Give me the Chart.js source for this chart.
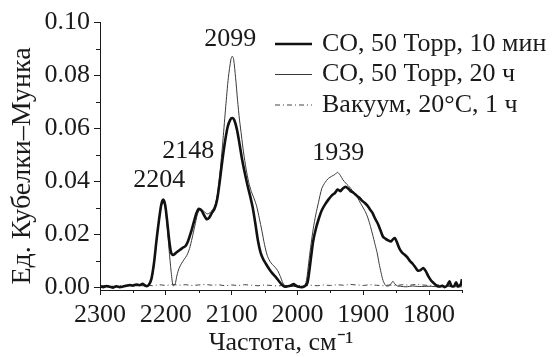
<!DOCTYPE html>
<html><head><meta charset="utf-8">
<script src="https://cdn.jsdelivr.net/npm/chart.js@4/dist/chart.umd.min.js"></script>
<style>html,body{margin:0;padding:0;background:#fff}</style>
</head><body>
<canvas id="c" width="555" height="357"></canvas>
<script>
// ---- data ----
const seriesLabels = ["CO, 50 Торр, 10 мин", "CO, 50 Торр, 20 ч", "Вакуум, 20°C, 1 ч"];

const wn10min = [2300,2295,2290,2285,2280,2275,2270,2265,2260,2255,2250,2245,2240,2235,2230,2226,2222,2218,2214,2210,2207,2204,2201,2198,2195,2192,2189,2185,2180,2175,2170,2166,2162,2158,2154,2150,2146,2142,2138,2134,2130,2126,2122,2118,2114,2110,2106,2102,2099,2096,2092,2088,2084,2080,2076,2072,2068,2064,2060,2056,2052,2048,2044,2040,2036,2032,2028,2024,2020,2015,2010,2006,2002,1998,1993,1989,1985,1982,1979,1976,1972,1968,1963,1958,1953,1948,1943,1939,1935,1931,1927,1923,1919,1915,1910,1906,1902,1898,1894,1890,1886,1882,1878,1874,1870,1866,1862,1858,1855,1852,1849,1845,1841,1837,1833,1829,1825,1821,1817,1813,1809,1805,1801,1797,1793,1789,1785,1780,1776,1772,1769,1766,1762,1759,1756,1752,1750];
const km10min = [0.0003,0.0000,0.0004,0.0001,-0.0002,0.0003,0.0000,0.0002,0.0005,0.0008,0.0006,0.0010,0.0007,0.0012,0.0004,0.0008,0.0030,0.0090,0.0180,0.0260,0.0310,0.0330,0.0310,0.0250,0.0180,0.0130,0.0121,0.0128,0.0138,0.0147,0.0155,0.0175,0.0205,0.0240,0.0275,0.0295,0.0290,0.0272,0.0256,0.0262,0.0280,0.0295,0.0330,0.0400,0.0480,0.0550,0.0605,0.0632,0.0638,0.0630,0.0595,0.0540,0.0480,0.0430,0.0385,0.0345,0.0300,0.0240,0.0175,0.0130,0.0105,0.0088,0.0072,0.0058,0.0046,0.0035,0.0022,0.0010,0.0002,0.0003,0.0006,0.0011,0.0005,0.0001,0.0000,0.0003,0.0015,0.0060,0.0120,0.0175,0.0220,0.0255,0.0290,0.0312,0.0330,0.0345,0.0355,0.0368,0.0362,0.0372,0.0378,0.0372,0.0362,0.0356,0.0345,0.0337,0.0326,0.0318,0.0308,0.0294,0.0280,0.0258,0.0240,0.0215,0.0190,0.0182,0.0176,0.0172,0.0180,0.0185,0.0170,0.0145,0.0130,0.0122,0.0112,0.0098,0.0088,0.0075,0.0062,0.0064,0.0072,0.0060,0.0040,0.0025,0.0015,0.0006,0.0002,0.0005,0.0000,0.0008,0.0022,0.0004,0.0003,0.0018,0.0002,0.0010,0.0030];

const wn20h = [2300,2280,2260,2240,2228,2222,2218,2214,2210,2207,2204,2201,2198,2195,2192,2189,2186,2183,2180,2176,2172,2168,2164,2160,2156,2152,2149,2145,2141,2137,2133,2129,2125,2121,2117,2113,2109,2105,2101,2099,2097,2094,2091,2088,2085,2082,2078,2074,2070,2066,2062,2058,2054,2050,2046,2042,2038,2034,2030,2026,2022,2018,2010,2002,1995,1989,1986,1983,1980,1976,1972,1968,1963,1958,1953,1948,1943,1939,1935,1931,1927,1923,1919,1915,1910,1906,1902,1898,1894,1890,1886,1882,1879,1876,1873,1870,1866,1862,1858,1855,1852,1848,1843,1835,1825,1815,1800,1785,1770,1750];
const km20h = [0.0002,0.0000,0.0004,0.0006,0.0005,0.0025,0.0085,0.0175,0.0255,0.0305,0.0325,0.0300,0.0230,0.0140,0.0060,0.0005,0.0010,0.0045,0.0070,0.0090,0.0105,0.0120,0.0145,0.0185,0.0230,0.0275,0.0290,0.0290,0.0283,0.0276,0.0280,0.0292,0.0310,0.0360,0.0450,0.0560,0.0680,0.0790,0.0860,0.0871,0.0860,0.0790,0.0705,0.0630,0.0570,0.0510,0.0445,0.0395,0.0360,0.0335,0.0305,0.0260,0.0212,0.0160,0.0120,0.0098,0.0085,0.0075,0.0062,0.0040,0.0015,0.0004,0.0003,0.0002,0.0000,0.0006,0.0030,0.0090,0.0150,0.0220,0.0275,0.0320,0.0372,0.0395,0.0410,0.0418,0.0425,0.0433,0.0422,0.0405,0.0393,0.0383,0.0372,0.0358,0.0342,0.0325,0.0307,0.0290,0.0268,0.0237,0.0200,0.0160,0.0130,0.0090,0.0055,0.0025,0.0006,0.0004,0.0012,0.0022,0.0012,0.0004,0.0003,0.0001,0.0004,0.0002,0.0003,0.0001,0.0002,0.0001];

const wnVac = [2300,2290,2280,2270,2260,2250,2240,2230,2220,2210,2200,2190,2180,2170,2160,2150,2140,2130,2120,2110,2100,2090,2080,2070,2060,2050,2040,2030,2020,2010,2000,1990,1980,1970,1960,1950,1940,1930,1920,1910,1900,1890,1880,1870,1860,1850,1840,1830,1820,1810,1800,1790,1780,1770,1760,1750];
const kmVac = [0.0004,0.0006,0.0003,0.0005,0.0007,0.0004,0.0006,0.0008,0.0005,0.0009,0.0006,0.0010,0.0007,0.0009,0.0006,0.0008,0.0010,0.0007,0.0009,0.0005,0.0008,0.0006,0.0009,0.0007,0.0005,0.0008,0.0006,0.0004,0.0007,0.0005,0.0006,0.0004,0.0007,0.0005,0.0008,0.0006,0.0009,0.0007,0.0010,0.0008,0.0006,0.0009,0.0007,0.0005,0.0008,0.0006,0.0009,0.0007,0.0010,0.0008,0.0006,0.0009,0.0007,0.0005,0.0008,0.0006];

const xTickValues = [2300,2200,2100,2000,1900,1800];
const xMinorTicks = [2250,2150,2050,1950,1850,1750];
const yTickValues = [0.00,0.02,0.04,0.06,0.08,0.10];
const yMinorTicks = [0.01,0.03,0.05,0.07,0.09];

const peakLabels = ["2204","2148","2099","1939"];
const peakLabelWn = [2210,2166,2102,1938];
const peakLabelKm = [0.0405,0.0511,0.0934,0.0507];

const xTitle = "Частота, см\u207B\u00B9";
const yTitle = "Ед. Кубелки\u2013Мунка";

// ---- chart ----
const FONT = "'Liberation Serif','Times New Roman',serif";
const toPts = (xs, ys) => xs.map((x, i) => ({x: x, y: ys[i]}));

const extras = {
  id: 'extras',
  afterDraw(chart) {
    const ctx = chart.ctx, xs = chart.scales.x, ys = chart.scales.y, ca = chart.chartArea;
    ctx.save();
    // minor ticks
    ctx.strokeStyle = '#1a1a1a'; ctx.lineWidth = 1;
    ctx.beginPath();
    yMinorTicks.forEach(v => { const y = Math.round(ys.getPixelForValue(v)) + 0.5; ctx.moveTo(ca.left - 4, y); ctx.lineTo(ca.left, y); });
    xMinorTicks.forEach(v => { const x = Math.round(xs.getPixelForValue(v)) + 0.5; ctx.moveTo(x, ca.bottom); ctx.lineTo(x, ca.bottom + 3); });
    ctx.stroke();
    // peak labels
    ctx.fillStyle = '#1a1a1a';
    ctx.font = "26px " + FONT;
    ctx.textAlign = 'center'; ctx.textBaseline = 'middle';
    peakLabels.forEach((t, i) => ctx.fillText(t, xs.getPixelForValue(peakLabelWn[i]), ys.getPixelForValue(peakLabelKm[i])));
    // y title
    ctx.save();
    ctx.font = "28px " + FONT;
    ctx.translate(23, 166); ctx.rotate(-Math.PI / 2);
    ctx.fillText(yTitle, 0, 0);
    ctx.restore();
    // legend
    const lx0 = 275, lx1 = 312, tx = 322, rows = [44, 74.5, 105];
    chart.data.datasets.forEach((ds, i) => {
      ctx.save();
      ctx.strokeStyle = ds.borderColor; ctx.lineWidth = ds.borderWidth;
      ctx.setLineDash(ds.borderDash || []);
      ctx.beginPath(); ctx.moveTo(lx0, rows[i]); ctx.lineTo(lx1, rows[i]); ctx.stroke();
      ctx.restore();
      ctx.textAlign = 'left';
      ctx.fillText(ds.label, tx, rows[i]);
    });
    ctx.restore();
  }
};

new Chart(document.getElementById('c'), {
  type: 'line',
  data: {
    datasets: [
      {label: seriesLabels[0], data: toPts(wn10min, km10min), borderColor: '#111', borderWidth: 2.6, pointRadius: 0, tension: 0.25, fill: false},
      {label: seriesLabels[1], data: toPts(wn20h, km20h), borderColor: '#3a3a3a', borderWidth: 1, pointRadius: 0, tension: 0.25, fill: false},
      {label: seriesLabels[2], data: toPts(wnVac, kmVac), borderColor: '#444', borderWidth: 1, borderDash: [5, 3, 1, 3], pointRadius: 0, tension: 0, fill: false}
    ]
  },
  options: {
    responsive: false, animation: false, devicePixelRatio: 1,
    layout: {padding: {top: 22, right: 93, left: 0, bottom: 0}},
    plugins: {legend: {display: false}, tooltip: {enabled: false}},
    scales: {
      x: {
        type: 'linear', reverse: true, min: 1750, max: 2300,
        afterBuildTicks: s => { s.ticks = xTickValues.map(v => ({value: v})); },
        afterFit: s => { s.height = 67; },
        grid: {drawOnChartArea: false, drawTicks: true, tickLength: 5, color: '#1a1a1a'},
        border: {display: true, color: '#1a1a1a', width: 1},
        ticks: {font: {family: FONT, size: 26}, color: '#1a1a1a', padding: 5, maxRotation: 0, autoSkip: false, callback: v => String(v)},
        title: {display: true, text: xTitle, font: {family: FONT, size: 26, lineHeight: 1.1}, color: '#1a1a1a', padding: 0}
      },
      y: {
        type: 'linear', min: -0.0011, max: 0.10,
        afterBuildTicks: s => { s.ticks = yTickValues.map(v => ({value: v})); },
        afterFit: s => { s.width = 100; },
        grid: {drawOnChartArea: false, drawTicks: true, tickLength: 6, color: '#1a1a1a'},
        border: {display: true, color: '#1a1a1a', width: 1},
        ticks: {font: {family: FONT, size: 26}, color: '#1a1a1a', padding: 4, autoSkip: false, callback: v => Number(v).toFixed(2)}
      }
    }
  },
  plugins: [extras]
});
</script>
</body></html>
